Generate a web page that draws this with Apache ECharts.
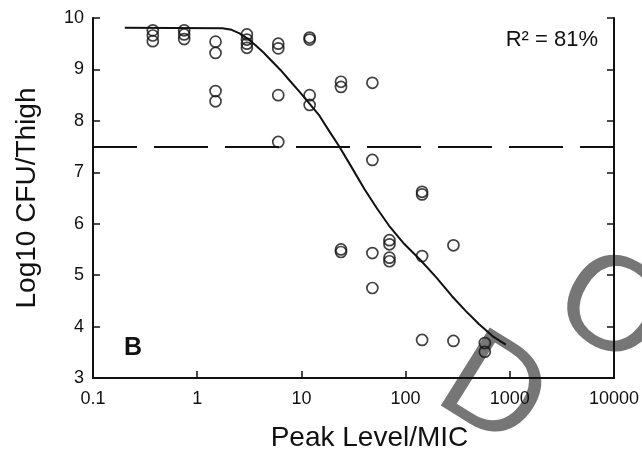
<!DOCTYPE html>
<html>
<head>
<meta charset="utf-8">
<script src="https://cdn.jsdelivr.net/npm/echarts@6/dist/echarts.min.js"></script>
<style>
html,body{margin:0;padding:0;background:#fff;}
#chart{width:642px;height:457px;}
</style>
</head>
<body>
<div id="chart"></div>
<script>
// ---- data ----
const obsX = [
  0.375,0.375,0.375,
  0.75,0.75,0.75,
  1.5,1.5,1.5,1.5,
  3,3,3,3,
  6,6,6,6,
  12,12,12,12,
  24,24,24,24,
  48,48,48,48,
  70,70,70,70,
  144,144,144,144,
  288,288,
  576,576
];
const obsY = [
  9.76,9.66,9.55,
  9.76,9.68,9.59,
  9.54,9.32,8.58,8.38,
  9.68,9.58,9.50,9.42,
  9.50,9.41,8.50,7.59,
  9.62,9.58,8.50,8.31,
  8.76,8.66,5.50,5.45,
  8.74,7.24,5.43,4.75,
  5.68,5.60,5.34,5.27,
  6.62,6.57,5.37,3.74,
  5.58,3.72,
  3.68,3.51
];
// fitted curve
const fitX = [0.202,1.75,2.14,2.55,3.04,3.63,4.33,5.16,6.30,7.67,9.57,11.9,14.9,18.5,23.1,30.1,40.1,53.4,69.5,96.8,138,196,279,379,505,687,916];
const fitY = [9.81,9.80,9.77,9.70,9.60,9.47,9.33,9.17,8.99,8.79,8.57,8.34,8.10,7.80,7.50,7.11,6.68,6.29,5.96,5.61,5.30,4.96,4.59,4.30,4.05,3.81,3.65];
const thresholdY = 7.5;
const xTickLabels = ['0.1','1','10','100','1000','10000'];
const xName = 'Peak Level/MIC';
const yName = 'Log10 CFU/Thigh';
const r2Text = 'R\u00b2 = 81%';
const panelLabel = 'B';

const FONT = '"Liberation Sans", Arial, Helvetica, sans-serif';
const INK = '#111';
const WM = '#767676';

const chart = echarts.init(document.getElementById('chart'), null, {renderer:'canvas'});

const axisCommon = {
  axisLine:{show:true, onZero:false, lineStyle:{color:INK, width:2}},
  axisTick:{show:true, inside:true, length:7, lineStyle:{color:INK, width:1.5}},
  splitLine:{show:false}
};

chart.setOption({
  animation:false,
  backgroundColor:'#fff',
  grid:{left:93, right:26, top:18, bottom:78, containLabel:false},
  xAxis:{
    type:'log', logBase:10, min:0.1, max:10000,
    ...axisCommon,
    axisLabel:{
      fontFamily:FONT, fontSize:18, color:INK, margin:12,
      formatter:function(v){ const i = Math.round(Math.log10(v)) + 1; return xTickLabels[i] !== undefined ? xTickLabels[i] : String(v); }
    },
    name:xName, nameLocation:'middle', nameGap:46,
    nameTextStyle:{fontFamily:FONT, fontSize:28, color:INK, padding:[0,0,0,32]}
  },
  yAxis:[{
    type:'value', min:3, max:10, interval:1,
    ...axisCommon,
    axisLabel:{fontFamily:FONT, fontSize:18, color:INK, margin:9},
    name:yName, nameLocation:'middle', nameGap:52, nameRotate:90,
    nameTextStyle:{fontFamily:FONT, fontSize:28, color:INK}
  },{
    type:'value', min:3, max:10, interval:1, position:'right',
    ...axisCommon,
    axisLabel:{show:false}
  }],
  series:[{
    type:'scatter',
    data:obsX.map((x,i)=>[x,obsY[i]]),
    symbol:'circle', symbolSize:11,
    itemStyle:{color:'rgba(0,0,0,0)', borderColor:INK, borderWidth:1.7},
    z:3,
    markLine:{
      silent:true, symbol:'none', label:{show:false},
      lineStyle:{color:INK, width:2, type:[54,17], dashOffset:10},
      data:[{yAxis:thresholdY}]
    }
  },{
    type:'line',
    data:fitX.map((x,i)=>[x,fitY[i]]),
    smooth:false, showSymbol:false, symbol:'none',
    lineStyle:{color:INK, width:2, join:'round'},
    z:2
  }],
  graphic:[
    {type:'text', x:492, y:394, rotation:-32*Math.PI/180, z:-10, silent:true,
     style:{text:'D', fontFamily:FONT, fontSize:134, fill:WM, align:'center', verticalAlign:'middle'}},
    {type:'text', x:610, y:311, rotation:-32*Math.PI/180, z:-10, silent:true,
     style:{text:'O', fontFamily:FONT, fontSize:134, fill:WM, align:'center', verticalAlign:'middle'}},
    {type:'text', right:44, top:29, style:{text:r2Text, fontFamily:FONT, fontSize:22, fill:INK}},
    {type:'text', left:124, top:336, style:{text:panelLabel, fontFamily:FONT, fontSize:25, fontWeight:'bold', fill:INK}}
  ]
});
</script>
</body>
</html>
